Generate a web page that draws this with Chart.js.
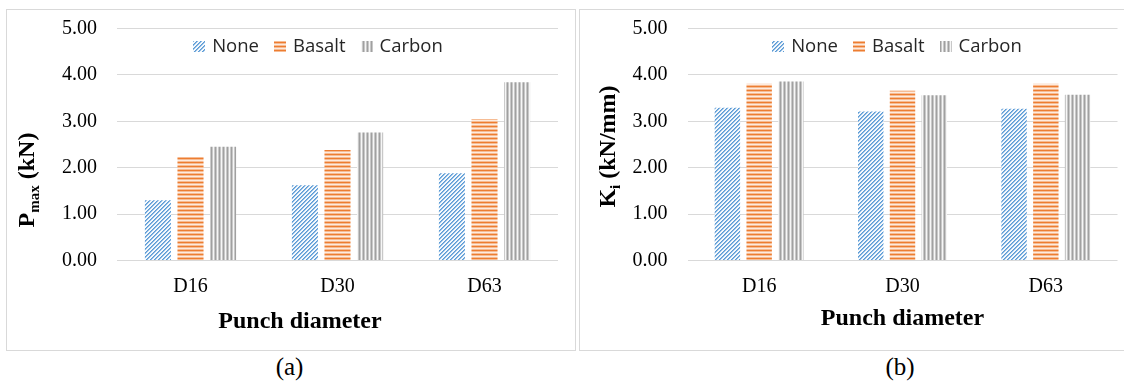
<!DOCTYPE html>
<html><head><meta charset="utf-8">
<script src="https://cdn.jsdelivr.net/npm/chart.js@4.4.1/dist/chart.umd.min.js"></script>
<style>
html,body{margin:0;padding:0;background:#fff;}
body{width:1124px;height:383px;position:relative;overflow:hidden;font-family:"Liberation Serif",serif;}
.frame{position:absolute;border:1px solid #d9d9d9;box-sizing:border-box;background:#fff;}
#fa{left:6px;top:9px;width:570px;height:342px;}
#fb{left:579px;top:9px;width:560px;height:342px;}
canvas{display:block;}
.cap{position:absolute;font-family:"Liberation Serif",serif;font-size:25px;top:352px;width:100px;text-align:center;line-height:30px;color:#000;}
</style></head>
<body>
<div class="frame" id="fa"><canvas id="ca" width="568" height="340"></canvas></div>
<div class="frame" id="fb"><canvas id="cb" width="544" height="340"></canvas></div>
<div class="cap" style="left:239.5px">(a)</div>
<div class="cap" style="left:850px">(b)</div>
<script>
const categories = ['D16', 'D30', 'D63'];
const seriesNames = ['None', 'Basalt', 'Carbon'];
const pmaxNone   = [1.30, 1.62, 1.88];
const pmaxBasalt = [2.23, 2.38, 3.05];
const pmaxCarbon = [2.45, 2.76, 3.84];
const kiNone     = [3.29, 3.21, 3.27];
const kiBasalt   = [3.81, 3.66, 3.81];
const kiCarbon   = [3.86, 3.56, 3.57];
const yTickLabels = ['0.00', '1.00', '2.00', '3.00', '4.00', '5.00'];

function makePattern(w, h, painter) {
  const c = document.createElement('canvas');
  c.width = w; c.height = h;
  const g = c.getContext('2d');
  painter(g);
  return g.createPattern(c, 'repeat');
}
const patNone = makePattern(4, 4, g => {
  g.fillStyle = '#f4f8fc'; g.fillRect(0, 0, 4, 4);
  for (let x = 0; x < 4; x++) for (let y = 0; y < 4; y++) {
    const k = (x + y) % 4;
    if (k === 0) { g.fillStyle = '#5B9BD5'; g.fillRect(x, y, 1, 1); }
    else if (k === 1) { g.fillStyle = '#8DB9E3'; g.fillRect(x, y, 1, 1); }
  }
});
const patBasalt = makePattern(1, 4, g => {
  const rows = ['#ED7D31', '#F6BC94', '#FDEBDF', '#F6BC94'];
  rows.forEach((c, i) => { g.fillStyle = c; g.fillRect(0, i, 1, 1); });
});
const patCarbon = makePattern(4, 1, g => {
  const cols = ['#A0A0A0', '#C8C8C8', '#F6F6F6', '#C8C8C8'];
  cols.forEach((c, i) => { g.fillStyle = c; g.fillRect(i, 0, 1, 1); });
});
const patterns = [patNone, patBasalt, patCarbon];

const overlay = {
  id: 'overlay',
  afterDraw(chart, args, o) {
    const ctx = chart.ctx;
    ctx.save();
    // legend
    ctx.font = '18.5px "Open Sans"';
    ctx.textBaseline = 'middle';
    ctx.textAlign = 'left';
    const items = chart.data.datasets.map(d => ({ label: d.label, fill: d.backgroundColor, w: ctx.measureText(d.label).width }));
    const box = 12, gap = 7, sep = 15;
    const total = items.reduce((s, it) => s + box + gap + it.w, 0) + sep * (items.length - 1);
    let x = o.legendX - total / 2;
    items.forEach(it => {
      ctx.fillStyle = it.fill;
      ctx.fillRect(Math.round(x), Math.round(o.legendY - 5.5), box, 11);
      x += box + gap;
      ctx.fillStyle = '#262626';
      ctx.fillText(it.label, x, o.legendY + 1);
      x += it.w + sep;
    });
    // x title
    ctx.font = 'bold 24px "Liberation Serif"';
    ctx.fillStyle = '#000';
    ctx.textAlign = 'center';
    ctx.textBaseline = 'alphabetic';
    ctx.fillText(o.xTitle, o.xTitleX, o.xTitleY);
    // y title with subscript
    ctx.translate(o.yTitleX, o.yTitleY);
    ctx.rotate(-Math.PI / 2);
    const main = 'bold 24px "Liberation Serif"', sub = 'bold 15px "Liberation Serif"';
    ctx.font = main;
    const w1 = ctx.measureText(o.yMain).width, w3 = ctx.measureText(o.yRest).width;
    ctx.font = sub;
    const w2 = ctx.measureText(o.ySub).width;
    let sx = -(w1 + w2 + w3) / 2;
    ctx.textAlign = 'left';
    ctx.font = main; ctx.fillText(o.yMain, sx, 0); sx += w1;
    ctx.font = sub; ctx.fillText(o.ySub, sx, 5); sx += w2;
    ctx.font = main; ctx.fillText(o.yRest, sx, 0);
    ctx.restore();
  }
};

function makeChart(id, vals, opts) {
  return new Chart(document.getElementById(id), {
    type: 'bar',
    data: {
      labels: categories,
      datasets: seriesNames.map((n, i) => ({
        label: n, data: vals[i], backgroundColor: patterns[i], borderWidth: 0,
        barPercentage: 0.8, categoryPercentage: 0.665
      }))
    },
    options: {
      responsive: false, animation: false,
      layout: { padding: { left: 0, right: opts.padRight, top: opts.padTop, bottom: 0 } },
      plugins: { legend: { display: false }, tooltip: { enabled: false }, overlay: opts.overlay },
      scales: {
        x: {
          grid: { display: false }, border: { display: false },
          ticks: { color: '#000', font: { family: '"Liberation Serif"', size: 20 }, padding: 6 },
          afterFit(s) { s.height = opts.xH; s.paddingLeft = 0; s.paddingRight = 0; }
        },
        y: {
          min: 0, max: 5,
          ticks: { stepSize: 1, color: '#000', font: { family: '"Liberation Serif"', size: 20 }, padding: 20,
                   callback: (v, i) => yTickLabels[i] },
          grid: { color: '#d9d9d9', lineWidth: 1, drawTicks: false },
          border: { display: false },
          afterFit(s) { s.width = opts.yW; s.paddingTop = 0; s.paddingBottom = 0; }
        }
      }
    },
    plugins: [overlay]
  });
}

makeChart('ca', [pmaxNone, pmaxBasalt, pmaxCarbon], {
  padRight: 17, padTop: 18.5, xH: 89.5, yW: 110,
  overlay: { legendX: 311, legendY: 36, xTitle: 'Punch diameter', xTitleX: 293, xTitleY: 318.3,
             yTitleX: 26.5, yTitleY: 170, yMain: 'P', ySub: 'max', yRest: ' (kN)' }
});
makeChart('cb', [kiNone, kiBasalt, kiCarbon], {
  padRight: 6.5, padTop: 18.5, xH: 89.5, yW: 107.5,
  overlay: { legendX: 317, legendY: 36, xTitle: 'Punch diameter', xTitleX: 322.5, xTitleY: 315,
             yTitleX: 35, yTitleY: 136.5, yMain: 'K', ySub: 'i', yRest: ' (kN/mm)' }
});
</script>
</body></html>
